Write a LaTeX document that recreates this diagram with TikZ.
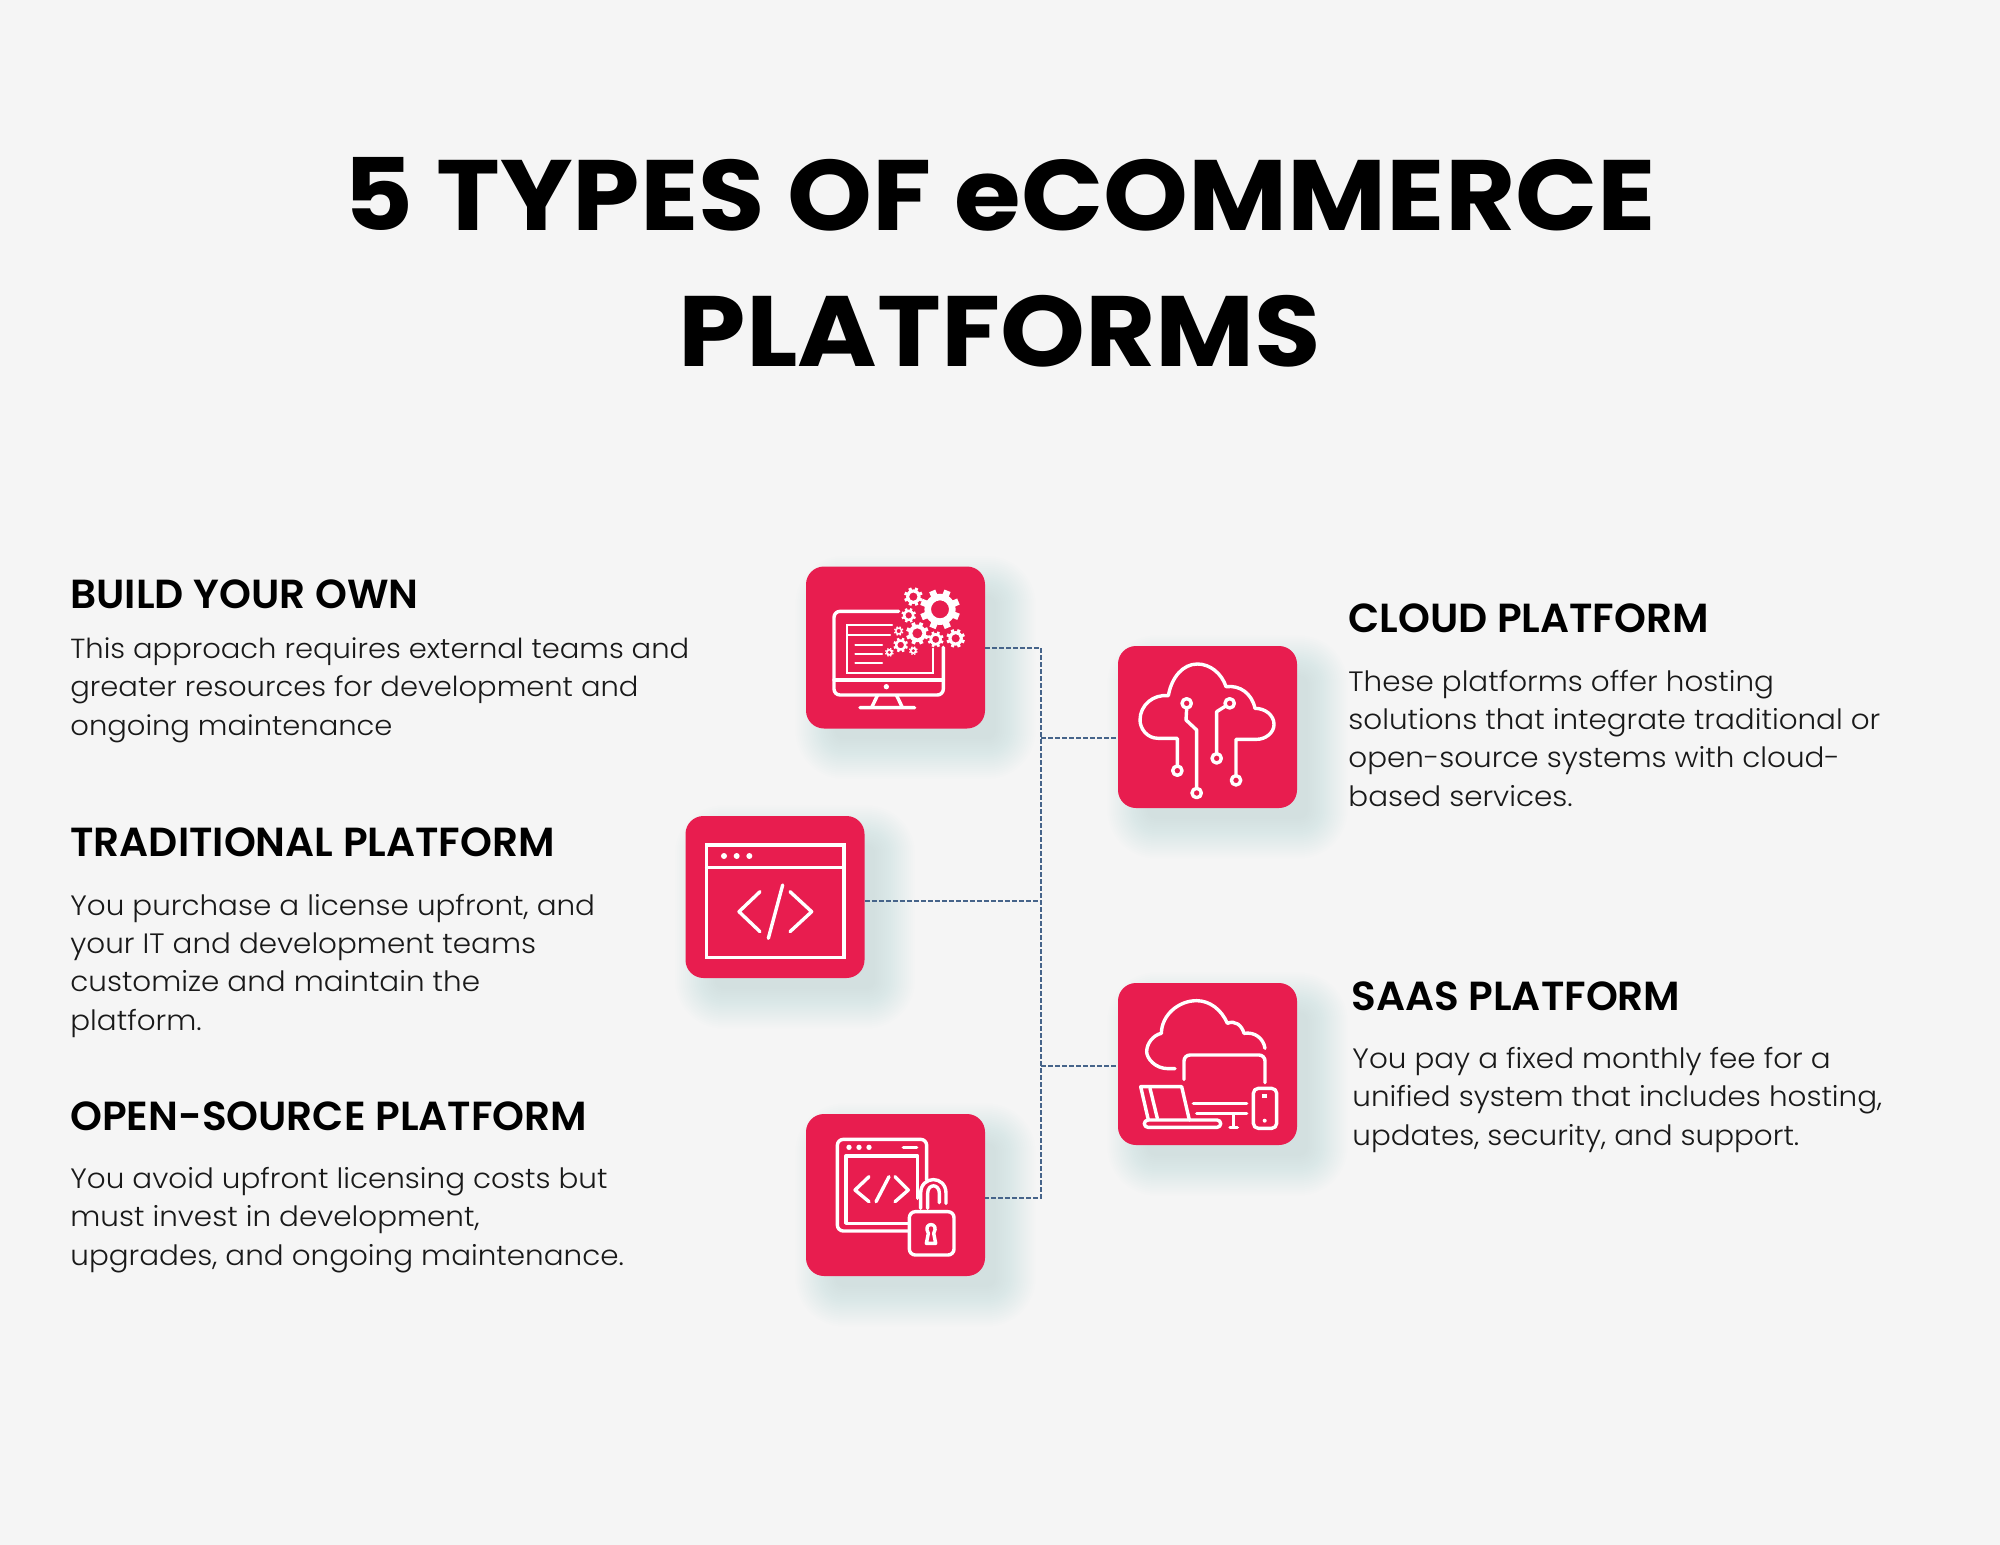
\documentclass[tikz,border=0pt]{standalone}
\usepackage{fontspec}
\usetikzlibrary{calc,backgrounds}
\setmainfont{Poppins}
\newfontfamily\titlefont{Poppins}[FakeStretch=1.08]
\newfontfamily\headfont{Poppins}[UprightFont=* SemiBold]
\newfontfamily\bodyfont{Poppins}[UprightFont=* Light,FakeStretch=1.05]
\definecolor{pagegrey}{HTML}{F5F5F5}
\definecolor{boxred}{HTML}{E81D4F}
\definecolor{glowgreen}{HTML}{A8DCC8}
\definecolor{linkblue}{HTML}{46648A}
\tikzset{
  iconbox/.style={fill=boxred,rounded corners=9pt,minimum width=89.5pt,minimum height=81pt,inner sep=0pt},
  headtext/.style={anchor=base west,inner sep=0pt,font=\headfont\fontsize{20.3}{25}\selectfont},
  bodytext/.style={anchor=base west,inner sep=0pt,align=left,text=black!90,font=\bodyfont\fontsize{14}{19.15}\selectfont},
  titletext/.style={anchor=base,inner sep=0pt,font=\titlefont\fontsize{50}{60}\bfseries\selectfont},
  link/.style={draw=linkblue,line width=.8pt,dash pattern=on 2.4pt off 1.1pt},
  zoomed/.style={shift={#1},x=.16667pt,y=-.16667pt},
  iconline/.style={draw=white,line width=1.7pt,line cap=round,line join=round},
  iconthin/.style={draw=white,line width=1.1pt,line cap=round}
}
% soft glow under a box, on the background layer
\newcommand{\softglow}[1]{
  \foreach \g in {30,28,...,-10}
    \fill[glowgreen,opacity=.018,rounded corners=.5pt*\g+9pt]
      ($(#1.north west)+(20-\g,20-\g)$) rectangle ($(#1.south east)+(20+\g,20+\g)$);
}
\newcommand{\cog}[3]{
  \fill[white,even odd rule] (#1,#2) circle (.78*#3) (#1,#2) circle (.45*#3);
  \foreach \a in {0,45,...,315}
    \draw[white,line width={.055pt*#3},shift={(#1,#2)}] (\a+22:.7*#3) -- (\a+22:#3);
}
\begin{document}
\begin{tikzpicture}[x=.5pt,y=-.5pt]
  \useasboundingbox (0,0) rectangle (2000,1545);

  \node[titletext] (titleone) at (1000,231) {5 TYPES OF eCOMMERCE};
  \node[titletext] (titletwo) at (1000,367) {PLATFORMS};

  \node[iconbox] (buildbox) at (895.5,647.5) {};
  \node[iconbox] (cloudbox) at (1207.5,727) {};
  \node[iconbox] (tradbox) at (775,897) {};
  \node[iconbox] (saasbox) at (1207.5,1064) {};
  \node[iconbox] (openbox) at (895.5,1195) {};

  \begin{pgfonlayer}{background}
    \fill[pagegrey] (0,0) rectangle (2000,1545);
    \softglow{buildbox}
    \softglow{cloudbox}
    \softglow{tradbox}
    \softglow{saasbox}
    \softglow{openbox}
  \end{pgfonlayer}

  % connectors
  \coordinate (spinetop) at (1041,648);
  \coordinate (spinebot) at (1041,1198);
  \coordinate (cloudjoin) at (1041,738);
  \coordinate (tradjoin) at (1041,901);
  \coordinate (saasjoin) at (1041,1066);
  \draw[link] (spinetop -| buildbox.east) -- (spinetop) -- (spinebot) -- (spinebot -| openbox.east);
  \draw[link] (cloudjoin) -- (cloudjoin -| cloudbox.west);
  \draw[link] (tradjoin -| tradbox.east) -- (tradjoin);
  \draw[link] (saasjoin) -- (saasjoin -| saasbox.west);

  % left column
  \node[headtext] (buildhead) at (70,608) {BUILD YOUR OWN};
  \node[bodytext,font=\bodyfont\fontsize{13.8}{19.15}\selectfont] (buildtext) at (70,735) {This approach requires external teams and\\greater resources for development and\\ongoing maintenance};
  \node[headtext] (tradhead) at (70,856) {TRADITIONAL PLATFORM};
  \node[bodytext] (tradtext) at (70,1030) {You purchase a license upfront, and\\your IT and development teams\\customize and maintain the\\platform.};
  \node[headtext] (openhead) at (70,1130) {OPEN-SOURCE PLATFORM};
  \node[bodytext] (opentext) at (70,1265) {You avoid upfront licensing costs but\\must invest in development,\\upgrades, and ongoing maintenance.};

  % right column
  \node[headtext] (cloudhead) at (1348,632) {CLOUD PLATFORM};
  \node[bodytext] (cloudtext) at (1348,806) {These platforms offer hosting\\solutions that integrate traditional or\\open-source systems with cloud-\\based services.};
  \node[headtext] (saashead) at (1351,1010) {SAAS PLATFORM};
  \node[bodytext] (saastext) at (1352,1145) {You pay a fixed monthly fee for a\\unified system that includes hosting,\\updates, security, and support.};

  % build icon
  \begin{scope}[zoomed={(790,550)}]
    \draw[iconline,rounded corners=3pt] (326,184) -- (132,184) -- (132,435) -- (460,435) -- (460,292);
    \draw[iconline] (132,390) -- (460,390);
    \draw[iconline] (262,437) -- (245,472) (320,437) -- (337,472) (210,473) -- (374,473);
    \fill[white] (289,410) circle (8);
    \draw[iconthin] (306,225) -- (172,225) -- (172,368) -- (428,368) -- (428,296);
    \draw[iconthin] (172,255) -- (300,255);
    \foreach \y in {284,312,340}
      \draw[iconthin] (196,\y) -- (276,\y);
    \cog{450}{178}{60}
    \cog{370}{140}{28}
    \cog{356}{196}{22}
    \cog{326}{243}{14}
    \cog{382}{250}{34}
    \cog{437}{268}{24}
    \cog{497}{265}{28}
    \cog{332}{285}{22}
    \cog{298}{307}{13}
    \cog{370}{302}{13}
  \end{scope}

  % cloud icon
  \begin{scope}[zoomed={(1100,630)}]
    \draw[iconline] (232,405) -- (232,325) -- (175,325) .. controls (140,325) and (120,295) .. (120,270)
      .. controls (120,225) and (160,192) .. (205,197) .. controls (215,140) and (250,102) .. (292,102)
      .. controls (330,102) and (365,130) .. (378,170) .. controls (420,165) and (455,190) .. (465,235)
      .. controls (495,235) and (522,255) .. (522,283) .. controls (522,310) and (495,328) .. (470,328)
      -- (408,328) -- (408,436);
    \draw[iconline] (260,235) -- (258,270) -- (290,300) -- (290,472);
    \draw[iconline] (377,228) -- (350,245) -- (350,368);
    \foreach \x/\y in {232/422,260/220,290/489,389/220,350/385,408/451}
      \draw[iconline] (\x,\y) circle (14);
  \end{scope}

  % traditional icon
  \begin{scope}[zoomed={(670,800)}]
    \draw[iconline,line cap=butt,line join=miter] (110,135) rectangle (522,472);
    \draw[iconline] (110,202) -- (522,202);
    \foreach \x in {162,200,238}
      \fill[white] (\x,168) circle (9);
    \draw[iconline] (270,275) -- (207,335) -- (270,395);
    \draw[iconline] (360,275) -- (425,335) -- (360,395);
    \draw[iconline] (338,255) -- (295,415);
  \end{scope}

  % saas icon
  \begin{scope}[zoomed={(1100,970)}]
    \draw[iconline] (225,296) -- (205,296) .. controls (165,296) and (140,265) .. (140,245)
      .. controls (140,220) and (160,195) .. (184,190) .. controls (185,135) and (235,92) .. (290,92)
      .. controls (330,92) and (365,120) .. (382,160) .. controls (405,150) and (425,165) .. (432,190)
      .. controls (465,185) and (490,205) .. (495,235);
    \draw[iconline,rounded corners=3pt] (252,328) -- (252,255) -- (495,255) -- (495,338);
    \draw[iconline] (280,400) -- (440,400) (290,430) -- (440,430);
    \draw[iconline] (400,432) -- (400,470) (390,473) -- (412,473);
    \draw[iconline] (268,450) -- (245,350) -- (122,350) -- (145,450);
    \draw[iconline] (150,355) -- (172,445);
    \draw[iconline,rounded corners=1.8pt] (133,450) rectangle (362,472);
    \draw[iconline,rounded corners=2.5pt] (460,355) rectangle (530,475);
    \fill[white] (487,371) rectangle (501,385);
    \fill[white] (494,452) circle (6);
  \end{scope}

  % open-source icon
  \begin{scope}[zoomed={(790,1100)}]
    \draw[iconline,rounded corners=3pt] (355,393) -- (142,393) -- (142,118) -- (410,118) -- (410,240);
    \draw[iconline] (383,295) -- (383,168) -- (168,168) -- (168,370) -- (355,370);
    \foreach \x in {177,207,237}
      \fill[white] (\x,142) circle (8);
    \draw[iconline] (340,142) -- (380,142);
    \draw[iconline] (237,230) -- (195,270) -- (237,305);
    \draw[iconline] (315,230) -- (355,270) -- (315,305);
    \draw[iconline] (297,230) -- (258,305);
    \draw[iconline] (392,325) -- (392,280) .. controls (392,225) and (468,225) .. (468,280) -- (468,310);
    \draw[iconline] (413,325) -- (413,280) .. controls (413,250) and (448,250) .. (448,280) -- (448,308);
    \draw[iconline,rounded corners=3pt] (358,335) rectangle (492,465);
    \draw[iconline] (409,430) -- (415,400) .. controls (395,365) and (451,365) .. (431,400) -- (437,430) -- cycle;
  \end{scope}
\end{tikzpicture}
\end{document}
